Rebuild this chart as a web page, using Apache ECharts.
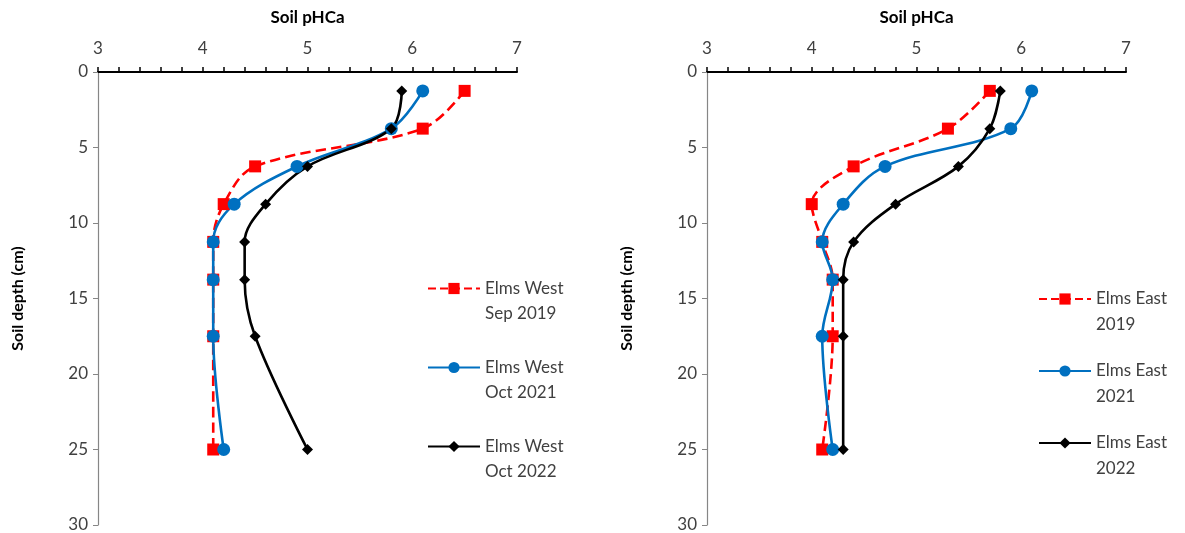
<!DOCTYPE html>
<html>
<head>
<meta charset="utf-8">
<script src="https://cdn.jsdelivr.net/npm/echarts@6/dist/echarts.min.js"></script>
<style>
html,body{margin:0;padding:0;background:#fff;}
#chart{width:1185px;height:533px;}
</style>
</head>
<body>
<div id="chart"></div>
<script>
// Depths (cm)
var depths = [1.25, 3.75, 6.25, 8.75, 11.25, 13.75, 17.5, 25];
// West site pHCa
var west2019 = [6.5, 6.1, 4.5, 4.2, 4.1, 4.1, 4.1, 4.1];
var west2021 = [6.1, 5.8, 4.9, 4.3, 4.1, 4.1, 4.1, 4.2];
var west2022 = [5.9, 5.8, 5.0, 4.6, 4.4, 4.4, 4.5, 5.0];
// East site pHCa
var east2019 = [5.7, 5.3, 4.4, 4.0, 4.1, 4.2, 4.2, 4.1];
var east2021 = [6.1, 5.9, 4.7, 4.3, 4.1, 4.2, 4.1, 4.2];
var east2022 = [5.8, 5.7, 5.4, 4.8, 4.4, 4.3, 4.3, 4.3];
// Names
var westNames = ['Elms West\nSep 2019', 'Elms West\nOct 2021', 'Elms West\nOct 2022'];
var eastNames = ['Elms East\n2019', 'Elms East\n2021', 'Elms East\n2022'];

var FONT = 'Lato, "Open Sans", sans-serif';

function pairs(xs){ return xs.map(function(v,i){ return [v, depths[i]]; }); }

function xAxisDef(idx){
  return {
    gridIndex: idx, type: 'value', position: 'top', min: 3, max: 7, interval: 1,
    name: 'Soil pHCa', nameLocation: 'middle', nameGap: 46,
    nameTextStyle: {fontFamily: FONT, fontWeight: 'bold', fontSize: 17, color: '#000'},
    axisLine: {onZero: false, lineStyle: {color: '#000', width: 2}},
    axisTick: {show: true, inside: false, length: 5, lineStyle: {color: '#000', width: 1.5}},
    minorTick: {show: true, splitNumber: 5, length: 5, lineStyle: {color: '#000', width: 1.5}},
    axisLabel: {fontFamily: FONT, fontSize: 17, color: '#404040', margin: 15},
    splitLine: {show: false}
  };
}
function yAxisDef(idx){
  return {
    gridIndex: idx, type: 'value', inverse: true, min: 0, max: 30, interval: 5,
    name: 'Soil depth (cm)', nameLocation: 'middle', nameGap: 72, nameRotate: 90,
    nameTextStyle: {fontFamily: FONT, fontWeight: 'bold', fontSize: 16, color: '#000'},
    axisLine: {show: true, onZero: false, lineStyle: {color: '#868686', width: 1.2}},
    axisTick: {show: true, inside: false, length: 5, lineStyle: {color: '#868686'}},
    axisLabel: {fontFamily: FONT, fontSize: 17, color: '#404040', margin: 10},
    splitLine: {show: false}
  };
}

var styles = [
  {color: '#FF0000', symbol: 'rect', size: 12, type: 'dashed'},
  {color: '#0070C0', symbol: 'circle', size: 13, type: 'solid'},
  {color: '#000000', symbol: 'diamond', size: 11, type: 'solid'}
];

function mkSeries(name, vals, s, idx){
  return {
    type: 'line', name: name, xAxisIndex: idx, yAxisIndex: idx,
    data: pairs(vals), smooth: 0.35,
    symbol: s.symbol, symbolSize: s.size, showSymbol: true,
    lineStyle: {color: s.color, width: 2.6, type: s.type},
    itemStyle: {color: s.color},
    emphasis: {disabled: true}, animation: false
  };
}

var series = [];
[west2019, west2021, west2022].forEach(function(v,i){ series.push(mkSeries(westNames[i], v, styles[i], 0)); });
[east2019, east2021, east2022].forEach(function(v,i){ series.push(mkSeries(eastNames[i], v, styles[i], 1)); });

function legendDef(names, left, top, gap, lh){
  return {
    orient: 'vertical', left: left, top: top, itemGap: gap,
    itemWidth: 52, itemHeight: 14,
    data: names, selectedMode: false,
    formatter: function(n){ return '\n' + n; },
    textStyle: {fontFamily: FONT, fontSize: 17, color: '#404040', lineHeight: lh}
  };
}

var chart = echarts.init(document.getElementById('chart'));
chart.setOption({
  backgroundColor: '#fff',
  animation: false,
  grid: [
    {left: 98, top: 72, width: 419, height: 453, outerBoundsMode: 'none', containLabel: false},
    {left: 707, top: 72, width: 419, height: 453, outerBoundsMode: 'none', containLabel: false}
  ],
  xAxis: [xAxisDef(0), xAxisDef(1)],
  yAxis: [yAxisDef(0), yAxisDef(1)],
  legend: [
    legendDef(westNames, 422, 246, 4, 25),
    legendDef(eastNames, 1033, 255, -6, 26)
  ],
  series: series
});
</script>
</body>
</html>
